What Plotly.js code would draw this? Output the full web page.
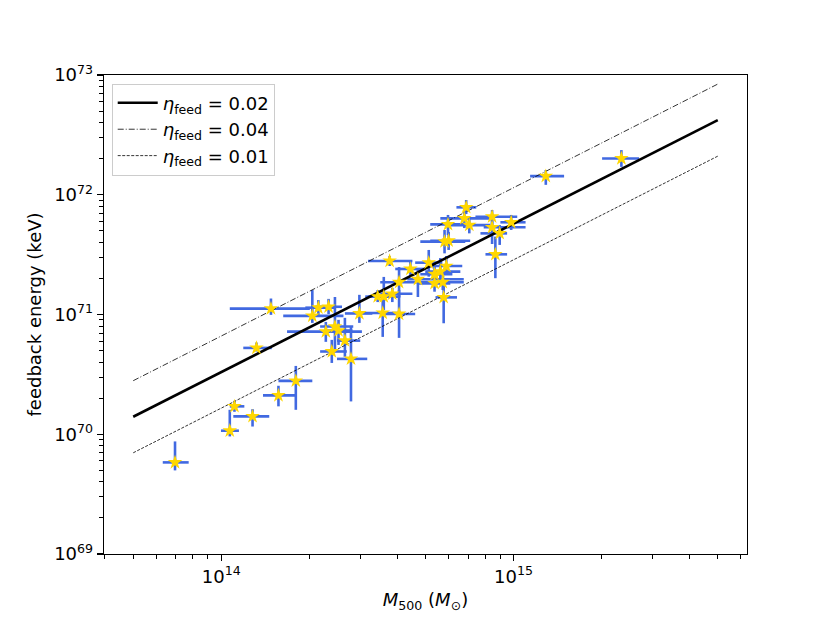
<!DOCTYPE html>
<html>
<head>
<meta charset="utf-8">
<script src="https://cdn.plot.ly/plotly-3.0.1.min.js"></script>
<style>
  html, body { margin: 0; padding: 0; background: white; }
  #chart { width: 830px; height: 623px; }
</style>
</head>
<body>
<div id="chart"></div>
<script>
// cluster masses (M_sun) with lower / upper ends of the error bars
var mass = [6.95e13, 1.07e14, 1.11e14, 1.28e14, 1.57e14, 1.80e14, 1.32e14, 1.48e14,
  2.05e14, 2.15e14, 2.33e14, 2.28e14, 2.45e14, 2.52e14, 2.65e14, 2.39e14, 2.78e14, 2.97e14,
  3.77e14, 4.44e14, 5.13e14, 4.06e14, 4.71e14, 5.37e14, 5.62e14, 5.89e14, 5.37e14, 5.73e14,
  5.77e14, 3.43e14, 3.60e14, 3.85e14, 3.57e14, 4.06e14,
  5.81e14, 6.00e14, 5.97e14, 6.89e14, 6.79e14, 7.06e14, 8.45e14, 8.45e14, 9.82e14, 8.97e14,
  8.67e14, 1.29e15, 2.34e15];
var massLo = [6.31e13, 9.98e13, 1.07e14, 1.10e14, 1.39e14, 1.57e14, 1.19e14, 1.07e14,
  1.63e14, 1.94e14, 2.10e14, 1.68e14, 2.18e14, 2.27e14, 2.49e14, 2.18e14, 2.49e14, 2.65e14,
  3.18e14, 3.94e14, 4.61e14, 3.50e14, 4.33e14, 4.80e14, 4.99e14, 5.19e14, 4.72e14, 4.80e14,
  5.41e14, 3.11e14, 3.18e14, 3.50e14, 3.06e14, 3.50e14,
  4.80e14, 5.19e14, 5.19e14, 6.38e14, 5.62e14, 6.08e14, 7.41e14, 7.91e14, 9.02e14, 7.71e14,
  8.02e14, 1.14e15, 2.01e15];
var massHi = [7.74e13, 1.15e14, 1.20e14, 1.46e14, 1.79e14, 2.05e14, 1.49e14, 2.01e14,
  2.62e14, 2.45e14, 2.59e14, 3.03e14, 2.83e14, 2.81e14, 2.99e14, 2.69e14, 3.16e14, 3.29e14,
  4.51e14, 4.99e14, 5.71e14, 4.80e14, 6.76e14, 6.18e14, 6.58e14, 6.68e14, 6.08e14, 6.76e14,
  6.41e14, 3.94e14, 4.10e14, 4.51e14, 4.10e14, 4.61e14,
  6.84e14, 7.11e14, 6.84e14, 7.46e14, 8.34e14, 8.34e14, 1.03e15, 1.10e15, 1.10e15, 9.51e14,
  9.51e14, 1.49e15, 2.69e15];

// feedback energies (keV) with lower / upper ends of the error bars
var energy = [5.82e69, 1.07e70, 1.71e70, 1.41e70, 2.11e70, 2.79e70, 5.26e70, 1.12e71,
  9.73e70, 1.14e71, 1.16e71, 7.20e70, 7.93e70, 7.35e70, 6.05e70, 4.91e70, 4.26e70, 1.02e71,
  2.80e71, 2.40e71, 2.71e71, 1.86e71, 1.97e71, 2.17e71, 2.28e71, 2.54e71, 1.82e71, 1.86e71,
  1.39e71, 1.41e71, 1.41e71, 1.49e71, 1.03e71, 1.01e71,
  4.06e71, 4.13e71, 5.66e71, 7.85e71, 6.35e71, 5.58e71, 6.56e71, 5.35e71, 5.89e71, 4.76e71,
  3.18e71, 1.43e72, 2.01e72];
var energyLo = [4.99e69, 9.59e69, 1.54e70, 1.16e70, 1.71e70, 1.60e70, 4.91e70, 9.93e70,
  8.51e70, 9.93e70, 1.01e71, 5.91e70, 5.07e70, 5.57e70, 4.43e70, 3.94e70, 1.88e70, 8.51e70,
  2.54e71, 2.10e71, 2.07e71, 1.40e71, 1.40e71, 1.70e71, 1.77e71, 2.14e71, 1.55e71, 1.60e71,
  8.45e70, 1.27e71, 1.09e71, 1.27e71, 6.50e70, 6.38e70,
  3.24e71, 3.46e71, 4.61e71, 6.90e71, 5.27e71, 4.76e71, 5.66e71, 3.88e71, 5.08e71, 3.81e71,
  2.01e71, 1.21e72, 1.71e72];
var energyHi = [8.71e69, 1.60e70, 1.90e70, 1.62e70, 2.54e70, 3.72e70, 5.83e70, 1.36e71,
  1.60e71, 1.32e71, 1.35e71, 8.67e70, 1.40e71, 9.02e70, 9.38e70, 6.14e70, 7.93e70, 1.46e71,
  3.08e71, 2.75e71, 3.46e71, 2.49e71, 2.36e71, 2.75e71, 2.96e71, 3.08e71, 2.10e71, 2.14e71,
  1.82e71, 1.60e71, 2.06e71, 1.67e71, 1.40e71, 1.60e71,
  5.08e71, 4.89e71, 6.78e71, 9.04e71, 7.45e71, 6.52e71, 7.45e71, 6.15e71, 6.78e71, 5.58e71,
  4.47e71, 1.61e72, 2.36e72];

// model lines (end points)
var lineMass = [5e13, 5e15];
var eta002 = [1.40e70, 4.20e72];
var eta004 = [2.80e70, 8.40e72];
var eta001 = [7.0e69, 2.1e72];

var xTickVals = [1e14, 1e15];
var xTickText = ['10<sup>14</sup>', '10<sup>15</sup>'];
var yTickVals = [1e69, 1e70, 1e71, 1e72, 1e73];
var yTickText = ['10<sup>69</sup>', '10<sup>70</sup>', '10<sup>71</sup>', '10<sup>72</sup>', '10<sup>73</sup>'];

// minor ticks at 2..9 of each decade
function minorTicks(lo, hi) {
    var out = [];
    for (var e = lo; e <= hi; e++) {
        for (var d = 2; d <= 9; d++) {
            out.push(d * Math.pow(10, e));
        }
    }
    return out;
}

var errPlusX = [], errMinusX = [], errPlusY = [], errMinusY = [];
for (var i = 0; i < mass.length; i++) {
    errPlusX.push(massHi[i] - mass[i]);
    errMinusX.push(mass[i] - massLo[i]);
    errPlusY.push(energyHi[i] - energy[i]);
    errMinusY.push(energy[i] - energyLo[i]);
}

var FONT = 'DejaVu Sans, sans-serif';
var xRange = [13.599, 15.799];
var yRange = [69, 73];

var traces = [
    {
        // error bars only
        x: mass, y: energy,
        type: 'scatter', mode: 'markers',
        marker: {size: 1, opacity: 0},
        error_x: {type: 'data', symmetric: false, array: errPlusX, arrayminus: errMinusX,
                  color: '#4169e1', thickness: 2.6, width: 0},
        error_y: {type: 'data', symmetric: false, array: errPlusY, arrayminus: errMinusY,
                  color: '#4169e1', thickness: 2.6, width: 0},
        showlegend: false, hoverinfo: 'skip'
    },
    {
        x: lineMass, y: eta002, type: 'scatter', mode: 'lines',
        line: {color: 'black', width: 2.6},
        name: '<i>η</i><sub>feed</sub> = 0.02', legendgroup: 'a'
    },
    {
        x: lineMass, y: eta004, type: 'scatter', mode: 'lines',
        line: {color: 'black', width: 0.8, dash: '6px,2px,1px,2px'},
        name: '<i>η</i><sub>feed</sub> = 0.04', legendgroup: 'b'
    },
    {
        x: lineMass, y: eta001, type: 'scatter', mode: 'lines',
        line: {color: 'black', width: 0.8, dash: '3px,1.5px'},
        name: '<i>η</i><sub>feed</sub> = 0.01', legendgroup: 'c'
    },
    {
        // star markers on top
        x: mass, y: energy,
        type: 'scatter', mode: 'markers',
        marker: {symbol: 'star', size: 11, color: '#ffd700', line: {width: 0}},
        showlegend: false, hoverinfo: 'skip'
    }
];

var layout = {
    width: 830,
    height: 623,
    paper_bgcolor: 'white',
    plot_bgcolor: 'white',
    margin: {l: 104, r: 83, t: 75, b: 69, pad: 0},
    font: {family: FONT, size: 18, color: 'black'},
    showlegend: true,
    legend: {
        x: 0.012, y: 0.982, xanchor: 'left', yanchor: 'top',
        bgcolor: 'rgba(255,255,255,0.8)',
        bordercolor: '#cccccc', borderwidth: 1,
        font: {family: FONT, size: 18, color: 'black'},
        traceorder: 'grouped', tracegroupgap: 0,
        itemwidth: 40
    },
    xaxis: {
        type: 'log', range: xRange,
        tickmode: 'array', tickvals: xTickVals, ticktext: xTickText,
        ticks: 'outside', ticklen: 6, tickwidth: 1.3, tickcolor: 'black',
        minor: {tickmode: 'array', tickvals: minorTicks(13, 15), ticks: 'outside',
                ticklen: 3.5, tickwidth: 1, tickcolor: 'black', showgrid: false},
        showline: true, linecolor: 'black', linewidth: 1.3, mirror: true,
        showgrid: false, zeroline: false,
        tickfont: {family: FONT, size: 18},
        title: {text: '<i>M</i><sub>500</sub> (<i>M</i><sub>⊙</sub>)',
                font: {family: FONT, size: 18}, standoff: 7}
    },
    yaxis: {
        type: 'log', range: yRange,
        tickmode: 'array', tickvals: yTickVals, ticktext: yTickText,
        ticks: 'outside', ticklen: 6, tickwidth: 1.3, tickcolor: 'black',
        minor: {tickmode: 'array', tickvals: minorTicks(69, 72), ticks: 'outside',
                ticklen: 3.5, tickwidth: 1, tickcolor: 'black', showgrid: false},
        showline: true, linecolor: 'black', linewidth: 1.3, mirror: true,
        showgrid: false, zeroline: false,
        tickfont: {family: FONT, size: 18},
        title: {text: 'feedback energy (keV)', font: {family: FONT, size: 18}, standoff: 8}
    }
};

Plotly.newPlot('chart', traces, layout, {displayModeBar: false, staticPlot: true});
</script>
</body>
</html>
